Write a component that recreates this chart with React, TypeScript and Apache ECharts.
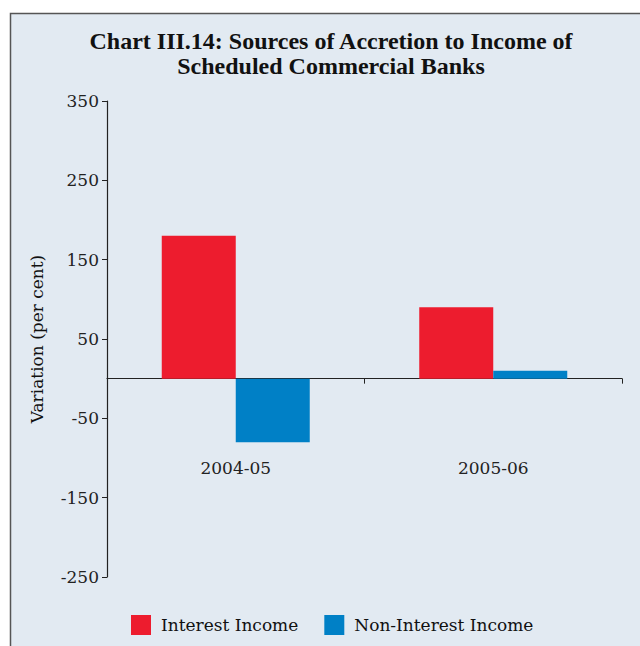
import React, { useEffect, useRef } from "react";
import * as echarts from "echarts";

const categories = ["2004-05", "2005-06"];
const interestIncome = [180, 90];
const nonInterestIncome = [-80, 10];
const yTicks = [-250, -150, -50, 50, 150, 250, 350];

export default function App() {
  const ref = useRef<HTMLDivElement>(null);
  useEffect(() => {
    if (!ref.current) return;
    const chart = echarts.init(ref.current, null, { renderer: "svg" });
    const serif = "DejaVu Serif";
    chart.setOption({
      animation: false,
      backgroundColor: "#ffffff",
      graphic: [
        {
          type: "rect",
          z: -10,
          silent: true,
          shape: { x: 10.5, y: 13.5, width: 640, height: 640 },
          style: { fill: "#e2eaf2", stroke: "#555555", lineWidth: 1.5 },
        },
      ],
      title: {
        text: "Chart III.14: Sources of Accretion to Income of\nScheduled Commercial Banks",
        left: 331,
        top: 28,
        padding: 0,
        textAlign: "center",
        textStyle: {
          fontFamily: "Liberation Serif",
          fontWeight: "bold",
          fontSize: 24,
          lineHeight: 25,
          color: "#111111",
        },
      },
      legend: {
        left: 131,
        top: 615,
        padding: 0,
        itemWidth: 20,
        itemHeight: 20,
        itemGap: 26,
        icon: "rect",
        textStyle: { fontFamily: serif, fontSize: 17, color: "#111111", padding: [0, 0, 0, 5] },
        data: ["Interest Income", "Non-Interest Income"],
      },
      grid: { left: 107, right: 18, top: 101, bottom: 69, containLabel: false, outerBoundsMode: "none" },
      xAxis: {
        type: "category",
        data: categories,
        axisLine: { onZero: true, lineStyle: { color: "#222222", width: 1.2 } },
        axisTick: { show: true, length: 5, lineStyle: { color: "#222222" } },
        axisLabel: { margin: -118, fontFamily: serif, fontSize: 17, color: "#222222" },
        splitLine: { show: false },
      },
      yAxis: {
        type: "value",
        min: -250,
        max: 350,
        name: "Variation (per cent)",
        nameLocation: "middle",
        nameRotate: 90,
        nameGap: 62,
        nameTextStyle: { fontFamily: serif, fontSize: 17, color: "#111111" },
        axisLine: { show: true, lineStyle: { color: "#222222", width: 1.2 } },
        axisTick: { show: true, length: 5, customValues: yTicks, lineStyle: { color: "#222222" } },
        axisLabel: {
          customValues: yTicks,
          margin: 8,
          fontFamily: serif,
          fontSize: 17,
          color: "#222222",
        },
        splitLine: { show: false },
      },
      series: [
        {
          name: "Interest Income",
          type: "bar",
          data: interestIncome,
          barWidth: 74,
          barGap: "0%",
          itemStyle: { color: "#ed1c2e" },
        },
        {
          name: "Non-Interest Income",
          type: "bar",
          data: nonInterestIncome,
          barWidth: 74,
          barGap: "0%",
          itemStyle: { color: "#0080c6" },
        },
      ],
    });
    return () => chart.dispose();
  }, []);
  return (
    <div
      ref={ref}
      style={{ position: "fixed", left: 0, top: 0, width: 640, height: 646 }}
    />
  );
}
